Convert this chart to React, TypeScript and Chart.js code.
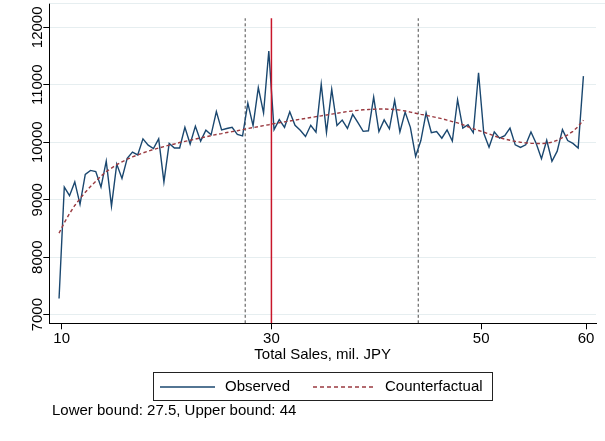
import React, { useEffect, useRef } from 'react';
import { Chart, registerables } from 'chart.js';

Chart.register(...registerables);

// ---- data ----
const salesBins = [
  9.75, 10.25, 10.75, 11.25, 11.75, 12.25, 12.75, 13.25, 13.75, 14.25,
  14.75, 15.25, 15.75, 16.25, 16.75, 17.25, 17.75, 18.25, 18.75, 19.25,
  19.75, 20.25, 20.75, 21.25, 21.75, 22.25, 22.75, 23.25, 23.75, 24.25,
  24.75, 25.25, 25.75, 26.25, 26.75, 27.25, 27.75, 28.25, 28.75, 29.25,
  29.75, 30.25, 30.75, 31.25, 31.75, 32.25, 32.75, 33.25, 33.75, 34.25,
  34.75, 35.25, 35.75, 36.25, 36.75, 37.25, 37.75, 38.25, 38.75, 39.25,
  39.75, 40.25, 40.75, 41.25, 41.75, 42.25, 42.75, 43.25, 43.75, 44.25,
  44.75, 45.25, 45.75, 46.25, 46.75, 47.25, 47.75, 48.25, 48.75, 49.25,
  49.75, 50.25, 50.75, 51.25, 51.75, 52.25, 52.75, 53.25, 53.75, 54.25,
  54.75, 55.25, 55.75, 56.25, 56.75, 57.25, 57.75, 58.25, 58.75, 59.25,
  59.75,
];

const observed = [
  7280, 9220, 9070, 9310, 8920, 9440, 9510, 9490, 9220, 9670,
  8890, 9620, 9370, 9720, 9830, 9780, 10060, 9950, 9890, 10060,
  9310, 9980, 9900, 9900, 10260, 9970, 10280, 10020, 10210, 10130,
  10535, 10215, 10240, 10260, 10135, 10110, 10680, 10290, 10950, 10510,
  11585, 10220, 10395, 10260, 10530, 10295, 10210, 10100, 10295, 10175,
  11010, 10170, 10920, 10290, 10385, 10240, 10485, 10340, 10190, 10200,
  10785, 10185, 10390, 10235, 10730, 10180, 10525, 10260, 9755, 10030,
  10510, 10165, 10185, 10070, 10215, 10020, 10740, 10245, 10305, 10165,
  11210, 10155, 9915, 10180, 10070, 10115, 10245, 9955, 9910, 9955,
  10180, 9980, 9715, 10035, 9670, 9845, 10220, 10030, 9980, 9900,
  11150,
];

const counterfactual = [
  8420, 8600, 8760, 8900, 9020, 9130, 9230, 9320, 9410, 9490,
  9550, 9610, 9660, 9705, 9745, 9780, 9815, 9845, 9875, 9900,
  9925, 9950, 9970, 9995, 10015, 10035, 10055, 10075, 10095, 10115,
  10135, 10150, 10170, 10185, 10200, 10220, 10240, 10255, 10270, 10290,
  10305, 10325, 10340, 10355, 10370, 10385, 10400, 10415, 10430, 10445,
  10460, 10475, 10490, 10505, 10520, 10535, 10545, 10555, 10565, 10570,
  10575, 10578, 10578, 10575, 10570, 10560, 10545, 10525, 10505, 10485,
  10470, 10450, 10430, 10410, 10385, 10360, 10338, 10305, 10270, 10235,
  10205, 10175, 10145, 10110, 10080, 10055, 10035, 10015, 10000, 9990,
  9982, 9978, 9977, 9985, 10000, 10035, 10080, 10130, 10190, 10275,
  10385,
];

const lowerBound = 27.5;
const upperBound = 44;
const threshold = 30;

const xTicks = [10, 30, 50, 60];
const yTicks = [7000, 8000, 9000, 10000, 11000, 12000];

const xTitle = 'Total Sales, mil. JPY';
const legendLabels = ['Observed', 'Counterfactual'];
const footnote = 'Lower bound: 27.5, Upper bound: 44';

// ---- styles ----
const FONT = '"Liberation Sans", Arial, Helvetica, sans-serif';
const NAVY = '#1a476f';
const MAROON = '#9a3a40';
const RED = '#c8162a';
const VGRAY = '#4a4a4a';
const GRID = '#e6eef0';

const Y_MIN = 6850;
const Y_MAX = 12423;
const X_MIN = 8.82;
const X_MAX = 60.95;
const LINE_TOP = 12157;

const decorPlugin = {
  id: 'decor',
  beforeDraw(chart: any) {
    const { ctx } = chart;
    ctx.save();
    ctx.fillStyle = '#ffffff';
    ctx.fillRect(0, 0, chart.width, chart.height);
    ctx.restore();
  },
  afterDraw(chart: any) {
    const { ctx, chartArea } = chart;
    const ys = chart.scales.y;
    ctx.save();
    // faint top frame line
    ctx.strokeStyle = GRID;
    ctx.lineWidth = 1;
    ctx.beginPath();
    ctx.moveTo(chartArea.left, chartArea.top + 0.5);
    ctx.lineTo(chart.width, chartArea.top + 0.5);
    ctx.stroke();

    ctx.fillStyle = '#000';
    ctx.font = '15px ' + FONT;
    // rotated y tick labels
    ctx.textAlign = 'center';
    ctx.textBaseline = 'alphabetic';
    yTicks.forEach((v) => {
      const py = ys.getPixelForValue(v);
      ctx.save();
      ctx.translate(42, py);
      ctx.rotate(-Math.PI / 2);
      ctx.fillText(String(v), 0, 0);
      ctx.restore();
    });

    // x-axis title
    ctx.textBaseline = 'middle';
    ctx.textAlign = 'center';
    ctx.fillText(xTitle, (chartArea.left + chartArea.right) / 2, 355);

    // legend box
    ctx.strokeStyle = '#222';
    ctx.lineWidth = 1;
    ctx.strokeRect(153.5, 372.5, 339, 28);
    const ly = 387;
    ctx.strokeStyle = NAVY;
    ctx.lineWidth = 1.4;
    ctx.setLineDash([]);
    ctx.beginPath();
    ctx.moveTo(160, ly);
    ctx.lineTo(215, ly);
    ctx.stroke();
    ctx.strokeStyle = MAROON;
    ctx.setLineDash([4, 3]);
    ctx.beginPath();
    ctx.moveTo(313, ly);
    ctx.lineTo(376, ly);
    ctx.stroke();
    ctx.setLineDash([]);
    ctx.textAlign = 'left';
    ctx.fillStyle = '#000';
    ctx.fillText(legendLabels[0], 225, ly);
    ctx.fillText(legendLabels[1], 385, ly);

    // footnote
    ctx.fillText(footnote, 52, 411);
    ctx.restore();
  },
};

export default function App() {
  const ref = useRef<HTMLCanvasElement | null>(null);

  useEffect(() => {
    if (!ref.current) return;
    const obsData = salesBins.map((x, i) => ({ x, y: observed[i] }));
    const cfData = salesBins.map((x, i) => ({ x, y: counterfactual[i] }));
    const chart = new Chart(ref.current, {
      type: 'line',
      data: {
        datasets: [
          {
            label: 'threshold',
            data: [
              { x: threshold, y: Y_MIN },
              { x: threshold, y: LINE_TOP },
            ],
            borderColor: RED,
            borderWidth: 1.5,
            pointRadius: 0,
            order: 0,
          },
          {
            label: 'lower',
            data: [
              { x: lowerBound, y: Y_MIN },
              { x: lowerBound, y: LINE_TOP },
            ],
            borderColor: VGRAY,
            borderWidth: 1,
            borderDash: [3, 2.5],
            pointRadius: 0,
            order: 3,
          },
          {
            label: 'upper',
            data: [
              { x: upperBound, y: Y_MIN },
              { x: upperBound, y: LINE_TOP },
            ],
            borderColor: VGRAY,
            borderWidth: 1,
            borderDash: [3, 2.5],
            pointRadius: 0,
            order: 3,
          },
          {
            label: legendLabels[0],
            data: obsData,
            borderColor: NAVY,
            borderWidth: 1.4,
            pointRadius: 0,
            tension: 0,
            order: 2,
          },
          {
            label: legendLabels[1],
            data: cfData,
            borderColor: MAROON,
            borderWidth: 1.4,
            borderDash: [3.5, 2.5],
            pointRadius: 0,
            tension: 0,
            order: 1,
          },
        ],
      },
      options: {
        responsive: false,
        animation: false,
        events: [],
        layout: { padding: { top: 3, right: 9, left: 0, bottom: 0 } },
        plugins: {
          legend: { display: false },
          tooltip: { enabled: false },
          title: { display: false },
        },
        scales: {
          x: {
            type: 'linear',
            min: X_MIN,
            max: X_MAX,
            afterBuildTicks: (s: any) => {
              s.ticks = xTicks.map((v) => ({ value: v }));
            },
            afterFit: (s: any) => {
              s.height = 117.7;
            },
            ticks: {
              color: '#000',
              font: { family: FONT, size: 15 },
              padding: 1,
              maxRotation: 0,
              minRotation: 0,
              callback: (v: any) => String(v),
            },
            grid: {
              drawOnChartArea: false,
              drawTicks: true,
              tickLength: 6,
              tickColor: '#000',
            },
            border: { display: true, color: '#000', width: 1 },
          },
          y: {
            type: 'linear',
            min: Y_MIN,
            max: Y_MAX,
            afterBuildTicks: (s: any) => {
              s.ticks = yTicks.map((v) => ({ value: v }));
            },
            afterFit: (s: any) => {
              s.width = 49.3;
            },
            ticks: { display: false },
            grid: {
              color: GRID,
              lineWidth: 1,
              drawTicks: true,
              tickLength: 6,
              tickColor: '#000',
            },
            border: { display: true, color: '#000', width: 1 },
          },
        },
      },
      plugins: [decorPlugin],
    } as any);
    return () => chart.destroy();
  }, []);

  return (
    <div style={{ position: 'absolute', left: 0, top: 0, width: 605, height: 441 }}>
      <canvas ref={ref} width={605} height={441} style={{ display: 'block' }} />
    </div>
  );
}
